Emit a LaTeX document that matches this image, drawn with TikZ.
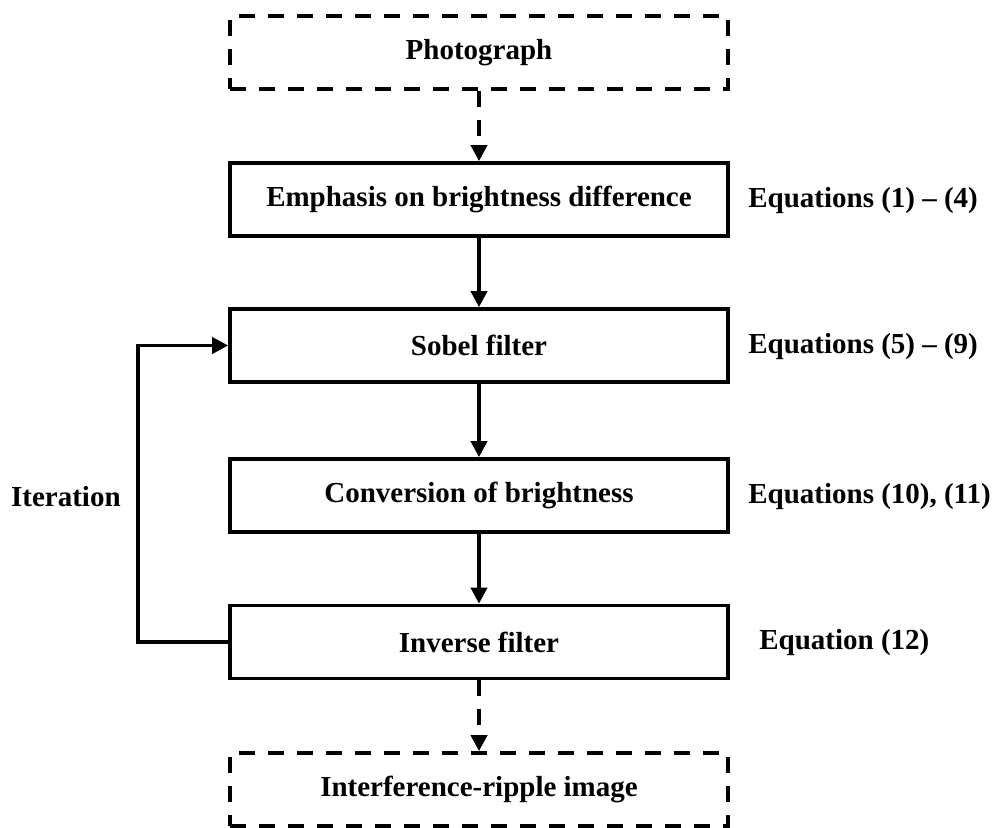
\documentclass[tikz,border=0pt]{standalone}
\usepackage{fontspec}
\setmainfont{Liberation Serif}
\usetikzlibrary{arrows.meta,positioning}
\begin{document}
\begin{tikzpicture}[x=0.02cm,y=-0.02cm,
  every node/.style={font=\fontsize{16.5}{20}\selectfont\bfseries},
  stepbox/.style={draw,line width=2.1pt,minimum width=9.96cm,minimum height=1.46cm,inner sep=0pt},
  dashbox/.style={stepbox,dash pattern=on 0.32cm off 0.26cm},
  arr/.style={line width=2.1pt,-{Triangle[width=0.32cm,length=0.32cm]}},
  darr/.style={arr,dash pattern=on 0.32cm off 0.26cm},
  eqlabel/.style={anchor=west,inner sep=0pt}
]
\useasboundingbox (0,0) rectangle (994,828);
\node[dashbox] (photo) at (479,52.5) {Photograph};
\node[stepbox] (emph) at (479,199.5) {Emphasis on brightness difference};
\node[stepbox] (sob) at (479,345.5) {Sobel filter};
\node[stepbox] (conv) at (479,495.5) {Conversion of brightness};
\node[stepbox] (inv) at (479,642) {Inverse filter};
\node[dashbox] (intf) at (479,789.5) {Interference-ripple image};

\node[eqlabel] (eq1) at (748,200.5) {Equations (1) -- (4)};
\node[eqlabel] (eq2) at (748,346.5) {Equations (5) -- (9)};
\node[eqlabel] (eq3) at (748,496.5) {Equations (10), (11)};
\node[eqlabel] (eq4) at (759,643) {Equation (12)};
\node[anchor=east,inner sep=0pt] (iter) at (121,496.5) {Iteration};

\draw[darr] (photo) -- (emph);
\draw[arr] (emph) -- (sob);
\draw[arr] (sob) -- (conv);
\draw[arr] (conv) -- (inv);
\draw[darr] (inv) -- (intf);
\coordinate (loop) at (138,642);
\draw[arr] (inv.west) -- (loop) |- (sob.west);
\end{tikzpicture}
\end{document}
